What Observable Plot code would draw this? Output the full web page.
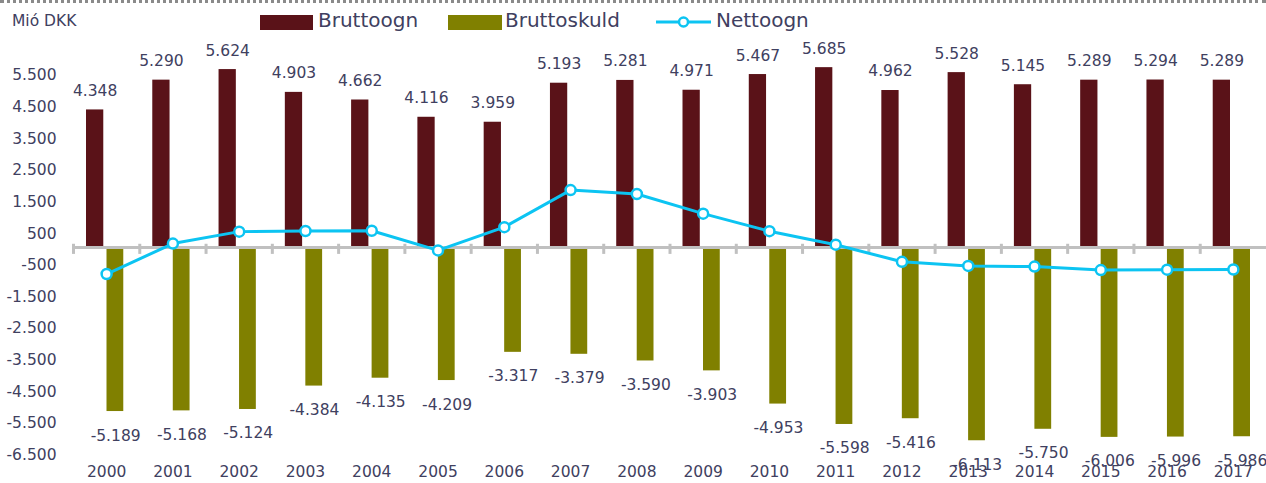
<!DOCTYPE html>
<html>
<head>
<meta charset="utf-8">
<script src="https://cdn.jsdelivr.net/npm/d3@7"></script>
<script src="https://cdn.jsdelivr.net/npm/@observablehq/plot@0.6"></script>
<style>
  body { margin: 0; background: white; font-family: "DejaVu Sans", Verdana, sans-serif; color: #404060; }
  #wrap { width: 1266px; }
  #head { position: relative; width: 1266px; height: 40px; border-top: 3px dotted #8a8a8a; box-sizing: border-box; }
  .t { position: absolute; white-space: nowrap; }
  .sw { position: absolute; height: 15px; }
</style>
</head>
<body>
<div id="wrap">
  <div id="head">
    <div class="t" style="left:12px; top:9px; font-size:15.5px;">Mió DKK</div>
    <div class="sw" style="left:260px; top:12px; width:53px; background:#5a1218;"></div>
    <div class="t" style="left:318px; top:5px; font-size:20px;">Bruttoogn</div>
    <div class="sw" style="left:448px; top:12px; width:54px; background:#808000;"></div>
    <div class="t" style="left:505px; top:5px; font-size:20px;">Bruttoskuld</div>
    <svg class="t" style="left:656px; top:9px;" width="56" height="20">
      <line x1="0" y1="10" x2="55" y2="10" stroke="#0cc4f2" stroke-width="3"/>
      <circle cx="27.5" cy="10" r="4.5" fill="white" stroke="#0cc4f2" stroke-width="2.5"/>
    </svg>
    <div class="t" style="left:716px; top:5px; font-size:20px;">Nettoogn</div>
  </div>
  <div id="chart"></div>
</div>
<script>
const years = ["2000","2001","2002","2003","2004","2005","2006","2007","2008","2009","2010","2011","2012","2013","2014","2015","2016","2017"];
const bruttoogn = [4348,5290,5624,4903,4662,4116,3959,5193,5281,4971,5467,5685,4962,5528,5145,5289,5294,5289];
const bruttoskuld = [-5189,-5168,-5124,-4384,-4135,-4209,-3317,-3379,-3590,-3903,-4953,-5598,-5416,-6113,-5750,-6006,-5996,-5986];
const nettoogn = [-841,122,500,519,527,-93,642,1814,1691,1068,514,87,-454,-585,-605,-717,-702,-697];
const yTicks = [5500,4500,3500,2500,1500,500,-500,-1500,-2500,-3500,-4500,-5500,-6500];

const rows = years.map((year, i) => ({year, ogn: bruttoogn[i], skuld: bruttoskuld[i], netto: nettoogn[i]}));
const fmt = d3.formatLocale({decimal: ",", thousands: ".", grouping: [3], currency: ["", ""], minus: "-"}).format(",d");

const W = 1266, ML = 73;
const bw = (W - ML) / years.length;
const textColor = "#404060";
const cyan = "#0cc4f2";

const chart = Plot.plot({
  width: W,
  height: 443,
  marginLeft: ML,
  marginRight: 0,
  marginTop: 0,
  marginBottom: 26,
  x: {type: "band", domain: years, paddingInner: 0, paddingOuter: 0, round: false},
  y: {domain: [-6500, 5500], range: [412.5, 33]},
  style: {fontFamily: "DejaVu Sans, Verdana, sans-serif", fontSize: "15.5px", color: textColor, background: "white"},
  marks: [
    Plot.barY(rows, {x: "year", y: "ogn", fill: "#5a1218", insetLeft: 13, insetRight: 36}),
    Plot.barY(rows, {x: "year", y: "skuld", fill: "#808000", insetLeft: 33.5, insetRight: 16}),
    Plot.ruleY([0], {stroke: "#c0c0c0", strokeWidth: 3}),
    Plot.ruleX(years, {x: d => d, dx: -bw / 2, y1: -220, y2: 100, stroke: "#c0c0c0", strokeWidth: 3}),
    Plot.text(rows, {x: "year", y: "ogn", text: d => fmt(d.ogn), dx: -11.5, dy: -19, fill: textColor, fontSize: 15.5}),
    Plot.text(rows, {x: "year", y: "skuld", text: d => fmt(d.skuld), dx: 9, dy: 24, fill: textColor, fontSize: 15.5}),
    Plot.line(rows, {x: "year", y: "netto", stroke: cyan, strokeWidth: 3}),
    Plot.dot(rows, {x: "year", y: "netto", r: 5, stroke: cyan, strokeWidth: 2.5, fill: "white"}),
    Plot.axisX({tickSize: 0, tickPadding: 8, label: null, fontSize: 15.5}),
    Plot.axisY({ticks: yTicks, tickSize: 0, tickPadding: 17, tickFormat: fmt, label: null, dy: 2, fontSize: 15.5})
  ]
});
document.getElementById("chart").appendChild(chart);
</script>
</body>
</html>
